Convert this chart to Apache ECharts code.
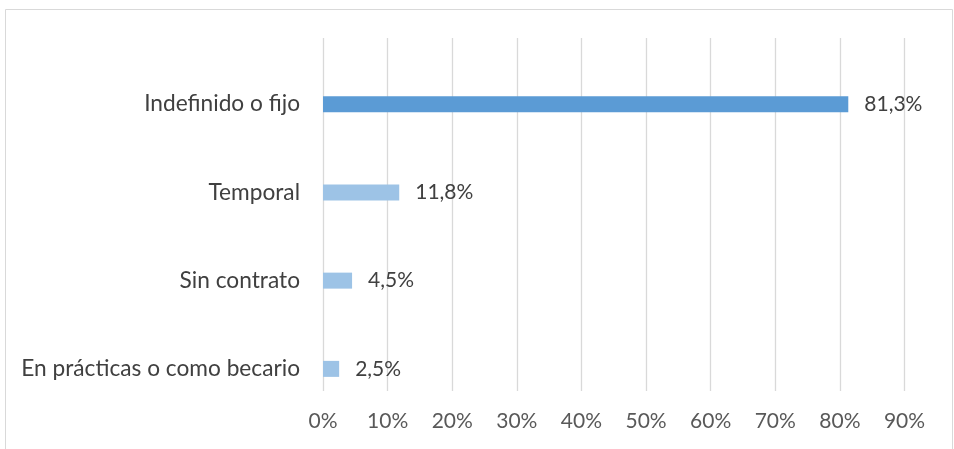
<!DOCTYPE html>
<html>
<head>
<meta charset="utf-8">
<script src="https://cdn.jsdelivr.net/npm/echarts@6/dist/echarts.min.js"></script>
<style>
html,body{margin:0;padding:0;background:#fff;}
#c{width:954px;height:449px;}
</style>
</head>
<body>
<div id="c"></div>
<script>
const categories = ["Indefinido o fijo", "Temporal", "Sin contrato", "En prácticas o como becario"];
const values = [81.3, 11.8, 4.5, 2.5];
const xTicks = [0, 10, 20, 30, 40, 50, 60, 70, 80, 90];

const DARK = "#5B9BD5", LIGHT = "#9DC3E6";
const FONT = "Lato, 'Open Sans', sans-serif";
const xMin = xTicks[0], xMax = xTicks[xTicks.length - 1];

const chart = echarts.init(document.getElementById('c'), null, {renderer: 'canvas'});
chart.setOption({
  animation: false,
  backgroundColor: '#fff',
  graphic: [{
    type: 'rect', silent: true, z: -10,
    shape: {x: 5.5, y: 9.5, width: 947, height: 460},
    style: {fill: 'none', stroke: '#d9d9d9', lineWidth: 1}
  }],
  grid: [
    {left: 323, right: 49.5, top: 38, bottom: 58, containLabel: false},
    {left: 323, right: 49.5, top: 60, bottom: 36, containLabel: false}
  ],
  xAxis: [{
    gridIndex: 0, type: 'value', min: xMin, max: xMax, interval: 10,
    axisLine: {show: false}, axisTick: {show: false},
    splitLine: {show: true, lineStyle: {color: '#d9d9d9', width: 1.3}},
    axisLabel: {formatter: '{value}%', color: '#595959', fontFamily: FONT, fontSize: 21, margin: 20}
  }, {
    gridIndex: 1, type: 'value', min: xMin, max: xMax, interval: 10, show: false,
    splitLine: {show: false}
  }],
  yAxis: [{
    gridIndex: 0, type: 'category', data: categories, show: false
  }, {
    gridIndex: 1, type: 'category', data: categories, inverse: true,
    axisLine: {show: false}, axisTick: {show: false},
    axisLabel: {color: '#404040', fontFamily: FONT, fontSize: 22.7, margin: 23}
  }],
  series: [{
    type: 'bar', xAxisIndex: 1, yAxisIndex: 1, data: values, barWidth: 16,
    itemStyle: {color: p => p.dataIndex === 0 ? DARK : LIGHT},
    label: {
      show: true, position: 'right', distance: 16,
      color: '#404040', fontFamily: FONT, fontSize: 21,
      formatter: p => p.value.toFixed(1).replace('.', ',') + '%'
    }
  }]
});
</script>
</body>
</html>
